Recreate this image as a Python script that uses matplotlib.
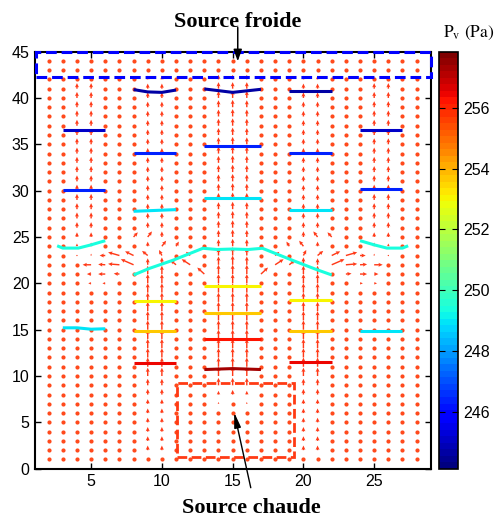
import numpy as np
import matplotlib
matplotlib.use('Agg')
import matplotlib.pyplot as plt
from matplotlib.colors import ListedColormap, Normalize
from matplotlib.cm import ScalarMappable

# ---------------- data ----------------
x_nodes = [2, 3, 4, 5, 6, 7, 8, 9, 10, 11, 12, 13, 14, 15, 16, 17, 18, 19, 20,
           21, 22, 23, 24, 25, 26, 27, 28]
y_nodes = [1, 2, 3, 4, 5, 6, 7, 8, 9, 10, 11, 12, 13, 14, 15, 16, 17, 18, 19, 20,
           21, 22, 23, 24, 25, 26, 27, 28, 29, 30, 31, 32, 33, 34, 35, 36, 37, 38,
           39, 40, 41, 42, 43, 44]

# upward velocity (grid units) along y = 1..44 for the left-half arrow columns;
# the right half is the mirror image about x = 15
v_x4 = [0, 0, 0, 0, 0, 0, 0, 0, 0, 0, 0, 0, 0, 0, 0, 0, 0, 0, 0, 0,
        0, 0, 0.1, 0.3, 0.5, 0.6, 0.65, 0.65, 0.65, 0.65, 0.65, 0.65, 0.65, 0.65, 0.65, 0.65, 0.65, 0.65,
        0.65, 0.65, 0.6, 0, 0, 0]
v_x5 = [0, 0, 0, 0, 0, 0, 0, 0, 0, 0, 0, 0, 0, 0, 0, 0, 0, 0, 0, 0,
        0, 0, 0.2, 0.4, 0.5, 0.6, 0.65, 0.65, 0.65, 0.65, 0.65, 0.65, 0.65, 0.65, 0.65, 0.65, 0.65, 0.65,
        0.65, 0.65, 0.6, 0, 0, 0]
v_x9 = [0, 0.5, 0.5, 0.5, 0.5, 0.5, 0.5, 0.6, 0.7, 0.9, 1.0, 1.0, 1.0, 1.0, 1.0, 1.0, 1.0, 1.0, 1.0, 1.0,
        0.9, 0.7, 0.5, 0.5, 0.55, 0.6, 0.6, 0.6, 0.6, 0.6, 0.6, 0.6, 0.6, 0.6, 0.6, 0.6, 0.6, 0.6,
        0.6, 0.6, 0.55, 0.4, 0, 0]
v_x10 = [0, 0.5, 0.5, 0.5, 0.5, 0.5, 0.5, 0.6, 0.7, 0.9, 1.0, 1.0, 1.0, 1.0, 1.0, 1.0, 1.0, 1.0, 1.0, 1.0,
         0.9, 0.8, 0.6, 0.55, 0.6, 0.6, 0.6, 0.6, 0.6, 0.6, 0.6, 0.6, 0.6, 0.6, 0.6, 0.6, 0.6, 0.6,
         0.6, 0.6, 0.55, 0.4, 0, 0]
v_x14 = [0, 0, 0, 0, 0, 0, 0.2, 0.4, 0.8, 1.0, 1.0, 1.0, 1.0, 1.0, 1.0, 1.0, 1.0, 1.0, 1.0, 1.0,
         1.0, 0.9, 0.8, 0.75, 0.75, 0.75, 0.75, 0.75, 0.75, 0.75, 0.75, 0.75, 0.75, 0.75, 0.75, 0.75, 0.75, 0.75,
         0.75, 0.75, 0.7, 0.5, 0, 0]
v_x15 = [0, 0, 0, 0, 0, 0, 0, 0.5, 0.8, 1.0, 1.0, 1.0, 1.0, 1.0, 1.0, 1.0, 1.0, 1.0, 1.0, 1.0,
         1.0, 1.0, 0.9, 0.8, 0.8, 0.8, 0.8, 0.8, 0.8, 0.8, 0.8, 0.8, 0.8, 0.8, 0.8, 0.8, 0.8, 0.8,
         0.8, 0.8, 0.7, 0.5, 0, 0]
column_x = [4, 5, 9, 10, 14, 15]
column_v = [v_x4, v_x5, v_x9, v_x10, v_x14, v_x15]

# lateral arrows in the mixing zone (left half: x, y, u, v)
mix_x = [5, 6, 7, 5, 6, 7, 8, 6, 7, 8, 9, 10, 8, 9, 10, 11, 12, 13, 11, 12, 5, 6]
mix_y = [21, 21, 21, 22, 22, 22, 22, 23, 23, 23, 23, 23, 25, 25, 24, 22, 22, 21, 24, 23, 20, 20]
mix_u = [-0.3, -0.5, -0.4, -0.6, -0.5, -0.8, -0.9, -0.4, -0.8, -0.6, -0.4, -0.2, 0.3, 0.3, 0.3,
         -0.4, -0.6, -0.5, 0.2, -0.3, -0.2, -0.2]
mix_v = [0.0, 0.0, 0.05, 0.0, 0.05, 0.1, 0.6, 0.0, 0.35, 0.45, 0.5, 0.6, 0.5, 0.6, 0.6,
         0.5, 0.6, 0.7, 0.5, 0.4, 0.0, 0.0]

# vapour-pressure iso-lines: level (Pa), x points, y points
iso_levels = [245.0, 246.3, 249.3, 249.0,
              244.6, 246.3, 248.9, 249.3, 253.0, 253.6, 256.4,
              244.6, 246.3, 248.9, 253.0, 253.6, 256.3, 257.3,
              244.6, 246.3, 248.9, 253.0, 253.6, 256.4,
              245.0, 246.3, 249.3, 249.0]
iso_x = [[3, 6], [3, 6], [2.6, 3.0, 4.1, 5.0, 6.0], [3, 4, 5, 6],
         [8, 9, 10, 11], [8, 11], [8, 11],
         [8, 9.1, 10.8, 12.9, 13.9, 15, 16.1, 17.1, 19.2, 20.9, 22],
         [8, 11], [8, 11], [8, 11],
         [13, 15, 17], [13, 17], [13, 17], [13, 17], [13, 17], [13, 17], [13, 15, 17],
         [19, 22], [19, 22], [19, 22], [19, 22], [19, 22], [19, 22],
         [24, 27], [24, 27], [24.0, 25.0, 25.9, 27.0, 27.4], [24, 27]]
iso_y = [[36.55, 36.55], [30.07, 30.07], [24.05, 23.8, 23.8, 24.15, 24.6], [15.2, 15.2, 15.05, 15.1],
         [40.9, 40.65, 40.6, 40.85], [34.06, 34.06], [27.77, 27.95],
         [20.9, 21.6, 22.5, 23.78, 23.65, 23.7, 23.65, 23.78, 22.5, 21.5, 20.9],
         [18.13, 18.13], [14.86, 14.86], [11.44, 11.44],
         [40.97, 40.6, 40.93], [34.85, 34.85], [29.24, 29.24], [19.72, 19.72], [16.84, 16.84],
         [13.96, 13.96], [10.7, 10.8, 10.7],
         [40.8, 40.8], [34.06, 34.06], [27.9, 27.9], [18.2, 18.2], [14.9, 14.9], [11.48, 11.48],
         [36.54, 36.54], [30.21, 30.21], [24.6, 24.15, 23.8, 23.8, 24.05], [14.9, 14.9]]

x_ticks = [5, 10, 15, 20, 25]
y_ticks = [0, 5, 10, 15, 20, 25, 30, 35, 40, 45]
cbar_ticks = [246, 248, 250, 252, 254, 256]
p_min, p_max = 244.12, 257.86

# ---------------- field assembly ----------------
X, Y = np.meshgrid(x_nodes, y_nodes)
U = np.zeros(X.shape)
V = np.zeros(X.shape)
x0 = x_nodes[0]
for cx, prof in zip(column_x, column_v):
    V[:, cx - x0] = prof
    V[:, 30 - cx - x0] = prof
for mx, my, mu, mv in zip(mix_x, mix_y, mix_u, mix_v):
    U[my - 1, mx - x0] = mu
    V[my - 1, mx - x0] = mv
    U[my - 1, 30 - mx - x0] = -mu
    V[my - 1, 30 - mx - x0] = mv
speed = np.hypot(U, V)
moving = speed > 0.05

# ---------------- figure ----------------
fig = plt.figure(figsize=(5.0, 5.19), dpi=100)
ax = fig.add_axes([0.069, 0.0969, 0.7926, 0.8037])
cax = fig.add_axes([0.8786, 0.0969, 0.038, 0.8037])

dot_color = '#ff4a1c'
ax.scatter(X[~moving], Y[~moving], s=9, color=dot_color, linewidths=0, zorder=2)
ax.quiver(X[moving], Y[moving], U[moving], V[moving], angles='xy', scale_units='xy',
          scale=1, color='#ff3a18', width=0.0036, headwidth=2.8,
          headlength=3.0, headaxislength=2.6, zorder=2)

cmap = ListedColormap(plt.get_cmap('jet')(np.linspace(0, 1, 64)))
norm = Normalize(vmin=p_min, vmax=p_max)
for lev, xs, ys in zip(iso_levels, iso_x, iso_y):
    ax.plot(xs, ys, color=cmap(norm(lev)), lw=2.2, solid_capstyle='butt', zorder=3)

# sources
ax.add_patch(plt.Rectangle((1.08, 42.26), 27.9, 2.7, fill=False, ec='#0000ff', lw=2.2,
                           ls=(0, (3.5, 1.6)), zorder=4, clip_on=False))
ax.add_patch(plt.Rectangle((11.08, 1.31), 8.23, 7.94, fill=False, ec='#ff3a14', lw=2.0,
                           ls=(0, (3.5, 1.6)), zorder=4))

ax.set_xlim(1, 29)
ax.set_ylim(0, 45)
ax.set_xticks(x_ticks)
ax.set_yticks(y_ticks)
ax.tick_params(direction='in', top=True, right=True, length=4, width=1,
               labelsize=11.5)
for lab in ax.get_xticklabels() + ax.get_yticklabels():
    lab.set_family('Liberation Sans')
for sp in ax.spines.values():
    sp.set_linewidth(1.5)

serif = 'Liberation Serif'
ax.annotate('', xy=(15.36, 43.95), xytext=(15.36, 47.6),
            arrowprops=dict(arrowstyle='-|>,head_length=0.7,head_width=0.25', color='black',
                            lw=1.1, shrinkA=0, shrinkB=0), annotation_clip=False, zorder=5)
fig.text(0.476, 1 - 27 / 519, 'Source froide', family=serif, weight='bold', fontsize=16,
         ha='center', va='baseline')
ax.annotate('', xy=(15.11, 6.07), xytext=(16.28, -2.05),
            arrowprops=dict(arrowstyle='-|>,head_length=0.9,head_width=0.2', color='black',
                            lw=1.0, shrinkA=0, shrinkB=0), annotation_clip=False, zorder=5)
fig.text(0.502, 1 - 513 / 519, 'Source chaude', family=serif, weight='bold', fontsize=16,
         ha='center', va='baseline')

# colour bar
sm = ScalarMappable(norm=norm, cmap=cmap)
cb = fig.colorbar(sm, cax=cax, ticks=cbar_ticks)
cb.outline.set_linewidth(1.2)
cax.tick_params(direction='in', left=True, right=True, length=4, labelsize=11.5)
for lab in cax.get_yticklabels():
    lab.set_family('Liberation Sans')
plt.rcParams['mathtext.fontset'] = 'stix'
fig.text(0.886, 1 - 37 / 519, r'P$_\mathregular{v}$ (Pa)', family='STIXGeneral', fontsize=12.5,
         ha='left', va='baseline')

fig.savefig('out.png', dpi=100)
